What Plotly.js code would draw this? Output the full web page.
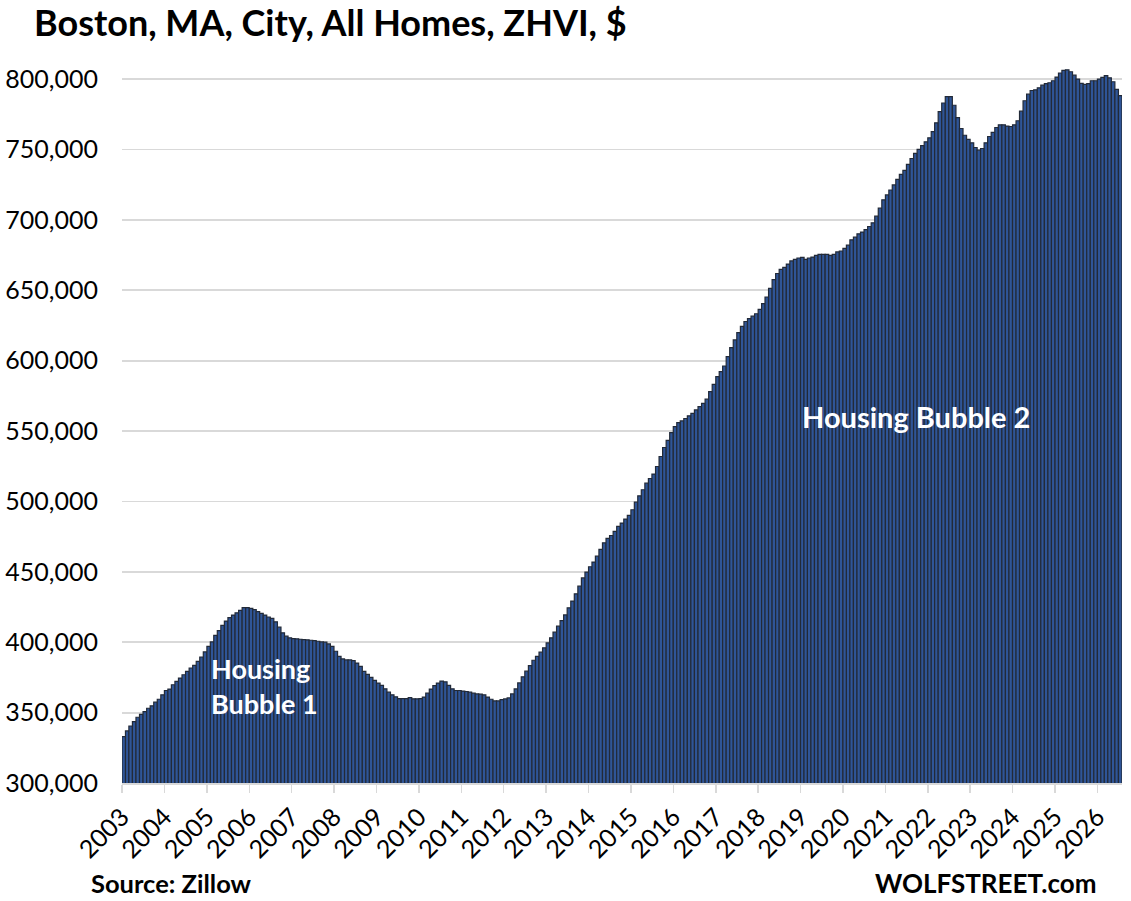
<!DOCTYPE html>
<html>
<head>
<meta charset="utf-8">
<script src="https://cdn.plot.ly/plotly-3.0.1.min.js"></script>
<style>
  html, body { margin: 0; padding: 0; background: #ffffff; }
  #chart { width: 1131px; height: 901px; }
</style>
</head>
<body>
<div id="chart"></div>
<script>
// Boston, MA, City, All Homes, ZHVI ($), monthly, Jan 2003 - Jul 2026
const years = [2003, 2004, 2005, 2006, 2007, 2008, 2009, 2010, 2011, 2012, 2013, 2014,
               2015, 2016, 2017, 2018, 2019, 2020, 2021, 2022, 2023, 2024, 2025, 2026];

const v2003 = [333000, 337000, 340500, 343600, 346700, 348800, 350700, 353100, 354800, 357400, 359500, 362600];
const v2004 = [365700, 366700, 369800, 372200, 374500, 376900, 379300, 381700, 383600, 386400, 389500, 393100];
const v2005 = [397100, 400200, 404800, 408300, 411900, 415000, 417400, 419300, 420900, 422600, 424500, 424500];
const v2006 = [424000, 423100, 421700, 420500, 419300, 417900, 416900, 414500, 410700, 406700, 404300, 403100];
const v2007 = [402600, 402400, 402100, 401900, 401700, 401400, 401200, 400700, 400200, 400000, 398800, 397100];
const v2008 = [393600, 390000, 388100, 387400, 387400, 386900, 385200, 382900, 379300, 377200, 375000, 372900];
const v2009 = [371000, 369300, 366900, 364500, 362600, 361200, 360000, 360000, 360000, 360700, 359800, 359800];
const v2010 = [360000, 361000, 363800, 366700, 369100, 371000, 372400, 371900, 369300, 366900, 365700, 365700];
const v2011 = [365300, 365000, 364500, 363800, 363300, 363100, 362600, 361000, 359500, 358300, 358300, 359200];
const v2012 = [359700, 360400, 363300, 366800, 371100, 375400, 379400, 383400, 387200, 390000, 392900, 396000];
const v2013 = [399500, 403100, 407100, 411400, 415400, 419400, 424400, 429200, 434400, 439800, 445700, 449800];
const v2014 = [453600, 456900, 461100, 465900, 470600, 473700, 475800, 478800, 482300, 484600, 487500, 490100];
const v2015 = [494100, 499500, 504000, 508300, 513000, 516300, 519400, 524800, 531900, 538300, 543300, 548900];
const v2016 = [553200, 556000, 557200, 558900, 560800, 562600, 565000, 567400, 569700, 572600, 578000, 583200];
const v2017 = [588700, 592200, 596200, 602800, 609200, 614700, 619900, 624300, 627800, 629900, 631600, 633300];
const v2018 = [636400, 640500, 645200, 651400, 657600, 661900, 664800, 666200, 668600, 670800, 672000, 672900];
const v2019 = [673400, 672000, 672900, 673600, 674800, 675500, 675500, 675500, 674800, 675500, 677200, 677900];
const v2020 = [679800, 682000, 685800, 687700, 690100, 691300, 693000, 695300, 697900, 702600, 708300, 714200];
const v2021 = [717700, 721200, 724800, 728800, 732300, 735100, 739400, 743600, 747200, 750000, 752800, 755400];
const v2022 = [758300, 762700, 768900, 776900, 783000, 787500, 787500, 781400, 772600, 764900, 760100, 757100];
const v2023 = [754700, 751400, 749500, 750700, 754700, 759200, 762200, 765600, 767500, 767500, 766600, 766300];
const v2024 = [767500, 770400, 777200, 784600, 789300, 791900, 792400, 793800, 795700, 796700, 797400, 798800];
const v2025 = [801400, 804300, 806200, 806600, 805200, 802800, 800000, 796900, 796200, 796700, 798800, 798800];
const v2026 = [800000, 801200, 802400, 800900, 798100, 792700, 788200];

const yearSeries = [v2003, v2004, v2005, v2006, v2007, v2008, v2009, v2010, v2011, v2012, v2013, v2014,
                    v2015, v2016, v2017, v2018, v2019, v2020, v2021, v2022, v2023, v2024, v2025, v2026];

const yTickVals = [300000, 350000, 400000, 450000, 500000, 550000, 600000, 650000, 700000, 750000, 800000];

const titleText = 'Boston, MA, City, All Homes, ZHVI, $';
const sourceText = 'Source: Zillow';
const brandText = 'WOLFSTREET.com';
const bubble1Text = 'Housing<br>Bubble 1';
const bubble2Text = 'Housing Bubble 2';

// build month categories (period start) and values
const months = [];
const values = [];
years.forEach((yr, i) => {
  yearSeries[i].forEach((val, m) => {
    months.push(yr + '-' + String(m + 1).padStart(2, '0') + '-01');
    values.push(val);
  });
});

const FONT = 'Lato, "Open Sans", "DejaVu Sans", sans-serif';

const trace = {
  type: 'bar',
  x: months,
  y: values,
  xperiod: 'M1',
  xperiodalignment: 'middle',
  width: 2629746000,
  marker: { color: '#2f5597', line: { color: '#222a38', width: 1.2 } },
  hoverinfo: 'skip'
};

const layout = {
  width: 1131,
  height: 901,
  margin: { l: 122, r: 9, t: 65, b: 118 },
  paper_bgcolor: '#ffffff',
  plot_bgcolor: '#ffffff',
  bargap: 0,
  showlegend: false,
  font: { family: FONT, color: '#000000', size: 25 },
  title: {
    text: titleText,
    font: { family: FONT, size: 36, weight: 'bold', color: '#000000' },
    xref: 'container', yref: 'container',
    x: 34 / 1131, xanchor: 'left',
    y: 1 - 23 / 901, yanchor: 'middle'
  },
  xaxis: {
    type: 'date',
    range: ['2003-01-01', '2026-08-01'],
    tick0: '2003-01-01',
    dtick: 'M12',
    tickformat: '%Y',
    tickangle: -45,
    ticks: 'outside',
    ticklen: 8,
    tickwidth: 1.5,
    tickcolor: '#d9d9d9',
    showline: true,
    linecolor: '#d9d9d9',
    linewidth: 1.5,
    showgrid: false,
    zeroline: false,
    tickfont: { family: FONT, size: 25, color: '#000000' },
    fixedrange: true
  },
  yaxis: {
    range: [300000, 810000],
    tickvals: yTickVals,
    tickformat: ',d',
    ticks: 'outside',
    ticklen: 18,
    tickcolor: 'rgba(0,0,0,0)',
    showgrid: true,
    gridcolor: '#d9d9d9',
    gridwidth: 1.8,
    zeroline: false,
    showline: false,
    tickfont: { family: FONT, size: 25, color: '#000000' },
    fixedrange: true
  },
  annotations: [
    {
      text: bubble2Text, xref: 'paper', yref: 'paper',
      x: 0.6776, y: 0.511, xanchor: 'left', yanchor: 'middle', showarrow: false,
      font: { family: FONT, size: 29, weight: 'bold', color: '#ffffff' }
    },
    {
      text: bubble1Text, xref: 'paper', yref: 'paper', align: 'left',
      x: 0.0866, y: 0.135, xanchor: 'left', yanchor: 'middle', showarrow: false,
      font: { family: FONT, size: 27, weight: 'bold', color: '#ffffff' }
    },
    {
      text: sourceText, xref: 'paper', yref: 'paper',
      x: (89 - 122) / 1000, y: (783 - 883) / 718, xanchor: 'left', yanchor: 'middle', showarrow: false,
      font: { family: FONT, size: 25.5, weight: 'bold', color: '#000000' }
    },
    {
      text: brandText, xref: 'paper', yref: 'paper',
      x: (1099 - 122) / 1000, y: (783 - 883) / 718, xanchor: 'right', yanchor: 'middle', showarrow: false,
      font: { family: FONT, size: 26, weight: 'bold', color: '#000000' }
    }
  ]
};

Plotly.newPlot('chart', [trace], layout, { displayModeBar: false, staticPlot: true });
</script>
</body>
</html>
